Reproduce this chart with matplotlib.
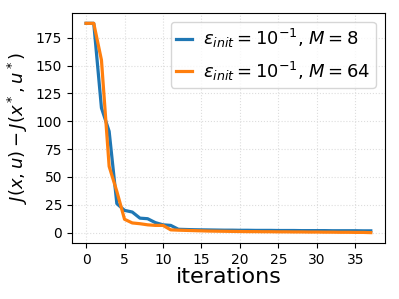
import matplotlib
matplotlib.use("Agg")
import matplotlib.pyplot as plt
import numpy as np

iterations = list(range(38))
j_m8 = [188, 188, 112, 91, 26, 20, 18.5, 13, 12.5, 9, 7, 6.5, 3, 2.8, 2.6, 2.5, 2.4, 2.3, 2.2, 2.2,
        2.1, 2.1, 2.0, 2.0, 2.0, 1.9, 1.9, 1.9, 1.8, 1.8, 1.8, 1.8, 1.7, 1.7, 1.7, 1.7, 1.6, 1.6]
j_m64 = [188, 188, 155, 59.5, 37, 12, 8.7, 8, 7, 6.5, 6.5, 2.5, 2.2, 2.0, 1.8, 1.6, 1.4, 1.3, 1.2, 1.1,
         1.0, 0.9, 0.9, 0.8, 0.8, 0.7, 0.7, 0.6, 0.6, 0.5, 0.5, 0.4, 0.4, 0.3, 0.3, 0.2, 0.2, 0.0]
labels = [r'$\varepsilon_{init} = 10^{-1}$, $M = 8$', r'$\varepsilon_{init} = 10^{-1}$, $M = 64$']

fig, ax = plt.subplots(figsize=(3.99, 2.99), dpi=100)
ax.plot(iterations, j_m8, color='#1f77b4', lw=2.3, label=labels[0])
ax.plot(iterations, j_m64, color='#ff7f0e', lw=2.3, label=labels[1])
ax.grid(True, color='#dddddd', linestyle=':', linewidth=0.8)
ax.set_xticks(np.arange(0, 40, 5))
ax.set_yticks(np.arange(0, 200, 25))
ax.tick_params(labelsize=10)
ax.set_xlabel('iterations', fontsize=16, labelpad=0)
ax.set_ylabel(r'$J(x, u) - J(x^*, u^*)$', fontsize=13)
ax.legend(fontsize=13, loc='upper right', handlelength=0.9, handletextpad=0.6, borderpad=0.3)
fig.subplots_adjust(left=0.180, right=0.965, top=0.957, bottom=0.187)
fig.savefig('out.png', dpi=100)
